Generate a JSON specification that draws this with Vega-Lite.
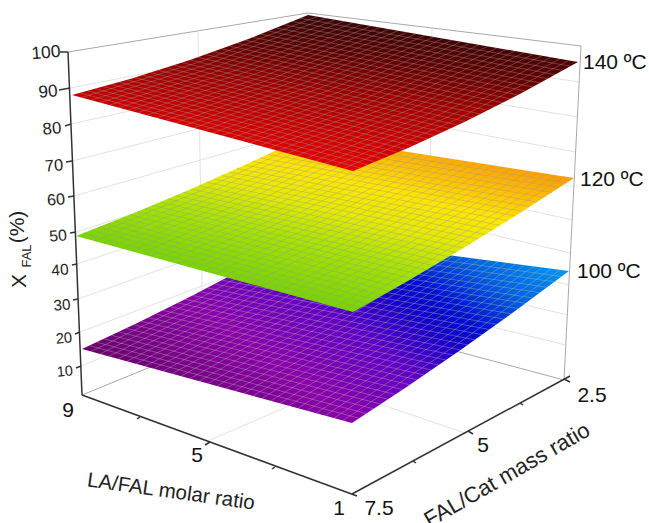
{"$schema":"https://vega.github.io/schema/vega-lite/v6.json","width":649,"height":523,"padding":0,"autosize":{"type":"none"},"background":"white","view":{"stroke":null},
"datasets":{
"wall":[{"a":70,"b":88,"c":306.7,"d":42},{"a":71,"b":124,"c":305.4,"d":72},{"a":72,"b":161,"c":304.1,"d":102},{"a":74,"b":196,"c":302.8,"d":131},{"a":76,"b":232,"c":301.5,"d":160},{"a":77,"b":264,"c":300.2,"d":190},{"a":78,"b":299,"c":298.9,"d":220},{"a":80,"b":332,"c":297.6,"d":250},{"a":81,"b":366,"c":296.3,"d":279},{"a":306.7,"b":42,"c":579.3,"d":82},{"a":305.4,"b":72,"c":577.6,"d":117},{"a":304.1,"b":102,"c":575.9,"d":152},{"a":302.8,"b":131,"c":574.2,"d":187},{"a":301.5,"b":160,"c":572.5,"d":220},{"a":300.2,"b":190,"c":570.8,"d":253},{"a":298.9,"b":220,"c":569.1,"d":285},{"a":297.6,"b":250,"c":567.4,"d":315},{"a":296.3,"b":279,"c":565.7,"d":345},{"a":198,"b":32,"c":203,"d":344},{"a":432,"b":28,"c":428,"d":345},{"a":210,"b":440,"c":430,"d":345},{"a":468,"b":434,"c":203,"d":344},{"a":308,"b":13,"c":295,"d":308}],
"edge":[{"a":68,"b":52,"c":308,"d":13},{"a":308,"b":13,"c":581,"d":46},{"a":581,"b":46,"c":564,"d":380},{"a":82,"b":395,"c":295,"d":308},{"a":564,"b":380,"c":295,"d":308}],
"axis":[{"a":68,"b":52,"c":82,"d":395},{"a":82,"b":395,"c":357,"d":496},{"a":352,"b":494,"c":570,"d":376},{"a":60,"b":52,"c":68,"d":52},{"a":59,"b":90,"c":70,"d":88},{"a":65,"b":126,"c":71,"d":124},{"a":66,"b":162,"c":72,"d":161},{"a":68,"b":197,"c":74,"d":196},{"a":70,"b":233,"c":76,"d":232},{"a":72,"b":265,"c":77,"d":264},{"a":73,"b":300,"c":78,"d":299},{"a":75,"b":334,"c":80,"d":332},{"a":76,"b":368,"c":81,"d":366},{"a":140,"b":417,"c":137,"d":419},{"a":210,"b":442,"c":205,"d":445},{"a":275,"b":467,"c":272,"d":469},{"a":413,"b":461,"c":416,"d":463},{"a":468,"b":431,"c":473,"d":434},{"a":520,"b":403,"c":523,"d":405},{"a":564,"b":379,"c":570,"d":382}],
"polyB":[{"a":82,"b":349,"k":1},{"a":137.25,"b":323,"k":2},{"a":192.5,"b":295.5,"k":3},{"a":247.75,"b":266.5,"k":4},{"a":303,"b":236,"k":5},{"a":569,"b":271,"k":6},{"a":514.75,"b":311.25,"k":7},{"a":460.5,"b":350,"k":8},{"a":406.25,"b":387.25,"k":9},{"a":352,"b":423,"k":10}],
"polyM":[{"a":76,"b":236,"k":1},{"a":133.5,"b":213.25,"k":2},{"a":191,"b":189,"k":3},{"a":248.5,"b":163.25,"k":4},{"a":306,"b":136,"k":5},{"a":574,"b":178,"k":6},{"a":518.75,"b":213.75,"k":7},{"a":463.5,"b":248,"k":8},{"a":408.25,"b":280.75,"k":9},{"a":353,"b":312,"k":10}],
"polyT":[{"a":72,"b":95,"k":1},{"a":131,"b":78.75,"k":2},{"a":190,"b":60,"k":3},{"a":249,"b":38.75,"k":4},{"a":308,"b":15,"k":5},{"a":578,"b":62,"k":6},{"a":521.75,"b":93,"k":7},{"a":465.5,"b":121.5,"k":8},{"a":409.25,"b":147.5,"k":9},{"a":353,"b":171,"k":10}],
"T1":[{"a":81.4,"b":97.5,"c":199.2,"d":62.1,"e":317,"f":16.6},{"a":90.7,"b":100.1,"c":208.4,"d":64.1,"e":326,"f":18.1},{"a":100.1,"b":102.6,"c":217.5,"d":66.2,"e":335,"f":19.7},{"a":109.5,"b":105.1,"c":226.7,"d":68.2,"e":344,"f":21.3},{"a":118.8,"b":107.7,"c":235.9,"d":70.3,"e":353,"f":22.8},{"a":128.2,"b":110.2,"c":245.1,"d":72.3,"e":362,"f":24.4},{"a":137.6,"b":112.7,"c":254.3,"d":74.4,"e":371,"f":26},{"a":146.9,"b":115.3,"c":263.5,"d":76.4,"e":380,"f":27.5},{"a":156.3,"b":117.8,"c":272.6,"d":78.5,"e":389,"f":29.1},{"a":165.7,"b":120.3,"c":281.8,"d":80.5,"e":398,"f":30.7},{"a":175,"b":122.9,"c":291,"d":82.6,"e":407,"f":32.2},{"a":184.4,"b":125.4,"c":300.2,"d":84.6,"e":416,"f":33.8},{"a":193.8,"b":127.9,"c":309.4,"d":86.7,"e":425,"f":35.4},{"a":203.1,"b":130.5,"c":318.6,"d":88.7,"e":434,"f":36.9},{"a":212.5,"b":133,"c":327.7,"d":90.8,"e":443,"f":38.5},{"a":221.9,"b":135.5,"c":336.9,"d":92.8,"e":452,"f":40.1},{"a":231.2,"b":138.1,"c":346.1,"d":94.9,"e":461,"f":41.6},{"a":240.6,"b":140.6,"c":355.3,"d":96.9,"e":470,"f":43.2},{"a":250,"b":143.1,"c":364.5,"d":99,"e":479,"f":44.8},{"a":259.3,"b":145.7,"c":373.7,"d":101,"e":488,"f":46.3},{"a":268.7,"b":148.2,"c":382.8,"d":103.1,"e":497,"f":47.9},{"a":278.1,"b":150.7,"c":392,"d":105.1,"e":506,"f":49.5},{"a":287.4,"b":153.3,"c":401.2,"d":107.2,"e":515,"f":51},{"a":296.8,"b":155.8,"c":410.4,"d":109.2,"e":524,"f":52.6},{"a":306.2,"b":158.3,"c":419.6,"d":111.3,"e":533,"f":54.2},{"a":315.5,"b":160.9,"c":428.8,"d":113.3,"e":542,"f":55.7},{"a":324.9,"b":163.4,"c":437.9,"d":115.4,"e":551,"f":57.3},{"a":334.3,"b":165.9,"c":447.1,"d":117.4,"e":560,"f":58.9},{"a":343.6,"b":168.5,"c":456.3,"d":119.5,"e":569,"f":60.4}],
"T2":[{"a":79.9,"b":92.9,"c":360.5,"d":168},{"a":87.7,"b":90.9,"c":368,"d":164.9},{"a":95.6,"b":88.8,"c":375.5,"d":161.9},{"a":103.5,"b":86.6,"c":383,"d":158.8},{"a":111.3,"b":84.5,"c":390.5,"d":155.6},{"a":119.2,"b":82.2,"c":398,"d":152.4},{"a":127.1,"b":79.9,"c":405.5,"d":149.2},{"a":134.9,"b":77.6,"c":413,"d":145.8},{"a":142.8,"b":75.2,"c":420.5,"d":142.5},{"a":150.7,"b":72.7,"c":428,"d":139.1},{"a":158.5,"b":70.3,"c":435.5,"d":135.6},{"a":166.4,"b":67.8,"c":443,"d":132.2},{"a":174.3,"b":65.2,"c":450.5,"d":128.7},{"a":182.1,"b":62.7,"c":458,"d":125.1},{"a":190,"b":60,"c":465.5,"d":121.5},{"a":197.9,"b":57.3,"c":473,"d":117.9},{"a":205.7,"b":54.6,"c":480.5,"d":114.1},{"a":213.6,"b":51.8,"c":488,"d":110.4},{"a":221.5,"b":48.9,"c":495.5,"d":106.6},{"a":229.3,"b":46.1,"c":503,"d":102.7},{"a":237.2,"b":43.2,"c":510.5,"d":98.9},{"a":245.1,"b":40.2,"c":518,"d":95},{"a":252.9,"b":37.3,"c":525.5,"d":91},{"a":260.8,"b":34.2,"c":533,"d":87},{"a":268.7,"b":31.1,"c":540.5,"d":83},{"a":276.5,"b":28,"c":548,"d":78.8},{"a":284.4,"b":24.8,"c":555.5,"d":74.7},{"a":292.3,"b":21.5,"c":563,"d":70.5},{"a":300.1,"b":18.3,"c":570.5,"d":66.2}],
"M1":[{"a":85.2,"b":238.5,"c":200.1,"d":191,"e":314.9,"f":137.4},{"a":94.5,"b":241.1,"c":209.2,"d":192.9,"e":323.9,"f":138.8},{"a":103.7,"b":243.6,"c":218.2,"d":194.9,"e":332.8,"f":140.2},{"a":112.9,"b":246.1,"c":227.3,"d":196.9,"e":341.7,"f":141.6},{"a":122.2,"b":248.7,"c":236.4,"d":198.8,"e":350.7,"f":143},{"a":131.4,"b":251.2,"c":245.5,"d":200.8,"e":359.6,"f":144.4},{"a":140.6,"b":253.7,"c":254.6,"d":202.8,"e":368.5,"f":145.8},{"a":149.9,"b":256.3,"c":263.7,"d":204.7,"e":377.5,"f":147.2},{"a":159.1,"b":258.8,"c":272.7,"d":206.7,"e":386.4,"f":148.6},{"a":168.3,"b":261.3,"c":281.8,"d":208.7,"e":395.3,"f":150},{"a":177.6,"b":263.9,"c":290.9,"d":210.6,"e":404.3,"f":151.4},{"a":186.8,"b":266.4,"c":300,"d":212.6,"e":413.2,"f":152.8},{"a":196,"b":268.9,"c":309.1,"d":214.6,"e":422.1,"f":154.2},{"a":205.3,"b":271.5,"c":318.2,"d":216.5,"e":431.1,"f":155.6},{"a":214.5,"b":274,"c":327.2,"d":218.5,"e":440,"f":157},{"a":223.7,"b":276.5,"c":336.3,"d":220.5,"e":448.9,"f":158.4},{"a":233,"b":279.1,"c":345.4,"d":222.4,"e":457.9,"f":159.8},{"a":242.2,"b":281.6,"c":354.5,"d":224.4,"e":466.8,"f":161.2},{"a":251.4,"b":284.1,"c":363.6,"d":226.4,"e":475.7,"f":162.6},{"a":260.7,"b":286.7,"c":372.7,"d":228.3,"e":484.7,"f":164},{"a":269.9,"b":289.2,"c":381.7,"d":230.3,"e":493.6,"f":165.4},{"a":279.1,"b":291.7,"c":390.8,"d":232.3,"e":502.5,"f":166.8},{"a":288.4,"b":294.3,"c":399.9,"d":234.2,"e":511.5,"f":168.2},{"a":297.6,"b":296.8,"c":409,"d":236.2,"e":520.4,"f":169.6},{"a":306.8,"b":299.3,"c":418.1,"d":238.2,"e":529.3,"f":171},{"a":316.1,"b":301.9,"c":427.2,"d":240.1,"e":538.3,"f":172.4},{"a":325.3,"b":304.4,"c":436.2,"d":242.1,"e":547.2,"f":173.8},{"a":334.5,"b":306.9,"c":445.3,"d":244.1,"e":556.1,"f":175.2},{"a":343.8,"b":309.5,"c":454.4,"d":246,"e":565.1,"f":176.6}],
"M2":[{"a":83.7,"b":233.1,"c":360.4,"d":307.9},{"a":91.3,"b":230,"c":367.7,"d":303.8},{"a":99,"b":227.1,"c":375.1,"d":299.7},{"a":106.7,"b":224.1,"c":382.5,"d":295.5},{"a":114.3,"b":221,"c":389.8,"d":291.4},{"a":122,"b":217.9,"c":397.2,"d":287.1},{"a":129.7,"b":214.8,"c":404.6,"d":282.8},{"a":137.3,"b":211.6,"c":411.9,"d":278.6},{"a":145,"b":208.5,"c":419.3,"d":274.3},{"a":152.7,"b":205.4,"c":426.7,"d":270},{"a":160.3,"b":202.1,"c":434,"d":265.7},{"a":168,"b":198.9,"c":441.4,"d":261.3},{"a":175.7,"b":195.6,"c":448.8,"d":256.8},{"a":183.3,"b":192.3,"c":456.1,"d":252.5},{"a":191,"b":189,"c":463.5,"d":248},{"a":198.7,"b":185.7,"c":470.9,"d":243.5},{"a":206.3,"b":182.2,"c":478.2,"d":239},{"a":214,"b":178.9,"c":485.6,"d":234.5},{"a":221.7,"b":175.5,"c":493,"d":229.9},{"a":229.3,"b":172,"c":500.3,"d":225.4},{"a":237,"b":168.5,"c":507.7,"d":220.7},{"a":244.7,"b":165,"c":515.1,"d":216},{"a":252.3,"b":161.4,"c":522.4,"d":211.4},{"a":260,"b":157.9,"c":529.8,"d":206.7},{"a":267.7,"b":154.4,"c":537.2,"d":202},{"a":275.3,"b":150.7,"c":544.5,"d":197.3},{"a":283,"b":147.1,"c":551.9,"d":192.5},{"a":290.7,"b":143.4,"c":559.3,"d":187.6},{"a":298.3,"b":139.7,"c":566.6,"d":182.9}],
"B1":[{"a":91,"b":351.5,"c":201.4,"d":297.3,"e":311.9,"f":237.2},{"a":100,"b":353.9,"c":210.4,"d":299.1,"e":320.7,"f":238.3},{"a":109,"b":356.4,"c":219.3,"d":301,"e":329.6,"f":239.5},{"a":118,"b":358.9,"c":228.2,"d":302.8,"e":338.5,"f":240.7},{"a":127,"b":361.3,"c":237.2,"d":304.6,"e":347.3,"f":241.8},{"a":136,"b":363.8,"c":246.1,"d":306.4,"e":356.2,"f":243},{"a":145,"b":366.3,"c":255,"d":308.2,"e":365.1,"f":244.2},{"a":154,"b":368.7,"c":264,"d":310,"e":373.9,"f":245.3},{"a":163,"b":371.2,"c":272.9,"d":311.9,"e":382.8,"f":246.5},{"a":172,"b":373.7,"c":281.8,"d":313.7,"e":391.7,"f":247.7},{"a":181,"b":376.1,"c":290.8,"d":315.5,"e":400.5,"f":248.8},{"a":190,"b":378.6,"c":299.7,"d":317.3,"e":409.4,"f":250},{"a":199,"b":381.1,"c":308.6,"d":319.1,"e":418.3,"f":251.2},{"a":208,"b":383.5,"c":317.6,"d":320.9,"e":427.1,"f":252.3},{"a":217,"b":386,"c":326.5,"d":322.8,"e":436,"f":253.5},{"a":226,"b":388.5,"c":335.4,"d":324.6,"e":444.9,"f":254.7},{"a":235,"b":390.9,"c":344.4,"d":326.4,"e":453.7,"f":255.8},{"a":244,"b":393.4,"c":353.3,"d":328.2,"e":462.6,"f":257},{"a":253,"b":395.9,"c":362.2,"d":330,"e":471.5,"f":258.2},{"a":262,"b":398.3,"c":371.2,"d":331.8,"e":480.3,"f":259.3},{"a":271,"b":400.8,"c":380.1,"d":333.7,"e":489.2,"f":260.5},{"a":280,"b":403.3,"c":389,"d":335.5,"e":498.1,"f":261.7},{"a":289,"b":405.7,"c":398,"d":337.3,"e":506.9,"f":262.8},{"a":298,"b":408.2,"c":406.9,"d":339.1,"e":515.8,"f":264},{"a":307,"b":410.7,"c":415.8,"d":340.9,"e":524.7,"f":265.2},{"a":316,"b":413.1,"c":424.8,"d":342.7,"e":533.5,"f":266.3},{"a":325,"b":415.6,"c":433.7,"d":344.6,"e":542.4,"f":267.5},{"a":334,"b":418.1,"c":442.6,"d":346.4,"e":551.3,"f":268.7},{"a":343,"b":420.5,"c":451.6,"d":348.2,"e":560.1,"f":269.8}],
"B2":[{"a":89.4,"b":345.6,"c":359.2,"d":418.3},{"a":96.7,"b":342.2,"c":366.5,"d":413.6},{"a":104.1,"b":338.8,"c":373.7,"d":408.9},{"a":111.5,"b":335.3,"c":380.9,"d":404.1},{"a":118.8,"b":331.9,"c":388.2,"d":399.4},{"a":126.2,"b":328.3,"c":395.4,"d":394.5},{"a":133.6,"b":324.7,"c":402.6,"d":389.6},{"a":140.9,"b":321.2,"c":409.9,"d":384.8},{"a":148.3,"b":317.6,"c":417.1,"d":379.9},{"a":155.7,"b":314,"c":424.3,"d":375},{"a":163,"b":310.4,"c":431.6,"d":370.1},{"a":170.4,"b":306.7,"c":438.8,"d":365.1},{"a":177.8,"b":302.9,"c":446,"d":360},{"a":185.1,"b":299.3,"c":453.3,"d":355.1},{"a":192.5,"b":295.5,"c":460.5,"d":350},{"a":199.9,"b":291.7,"c":467.7,"d":344.9},{"a":207.2,"b":287.9,"c":475,"d":339.8},{"a":214.6,"b":284.1,"c":482.2,"d":334.7},{"a":222,"b":280.2,"c":489.4,"d":329.5},{"a":229.3,"b":276.4,"c":496.7,"d":324.4},{"a":236.7,"b":272.4,"c":503.9,"d":319.1},{"a":244.1,"b":268.4,"c":511.1,"d":313.8},{"a":251.4,"b":264.5,"c":518.4,"d":308.6},{"a":258.8,"b":260.5,"c":525.6,"d":303.3},{"a":266.2,"b":256.5,"c":532.8,"d":298},{"a":273.5,"b":252.5,"c":540.1,"d":292.7},{"a":280.9,"b":248.4,"c":547.3,"d":287.3},{"a":288.3,"b":244.2,"c":554.5,"d":281.8},{"a":295.6,"b":240.2,"c":561.8,"d":276.5}],
"ylabels":[{"a":46,"b":53,"t":"100","v":100},{"a":48,"b":92,"t":"90","v":90},{"a":52,"b":129,"t":"80","v":80},{"a":54,"b":166,"t":"70","v":70},{"a":56,"b":200,"t":"60","v":60},{"a":58,"b":236,"t":"50","v":50},{"a":60,"b":270,"t":"40","v":40},{"a":62,"b":305,"t":"30","v":30},{"a":64,"b":339,"t":"20","v":20},{"a":65,"b":372,"t":"10","v":10}],
"ticks":[{"a":68,"b":411,"t":"9"},{"a":197,"b":456,"t":"5"},{"a":339,"b":509,"t":"1"},{"a":379,"b":509,"t":"7.5"},{"a":483,"b":446,"t":"5"},{"a":592,"b":396,"t":"2.5"}],
"temps":[{"a":583,"b":63,"t":"140 ºC"},{"a":580,"b":180,"t":"120 ºC"},{"a":577,"b":272,"t":"100 ºC"}],
"title1":[{"a":171,"b":492,"t":"LA/FAL molar ratio"}],
"title2":[{"a":507,"b":475,"t":"FAL/Cat mass ratio"}],
"ytitleBig":[{"a":20,"b":281,"t":"X"},{"a":18,"b":227,"t":"(%)"}],
"ytitleSub":[{"a":27,"b":256,"t":"FAL"}]
},
"encoding":{"x":{"field":"a","type":"quantitative","scale":{"domain":[0,649]},"axis":null},"y":{"field":"b","type":"quantitative","scale":{"domain":[523,0]},"axis":null}},
"layer":[
{"data":{"name":"wall"},"mark":{"type":"rule","stroke":"#e2e2e2","strokeWidth":1},"encoding":{"x2":{"field":"c"},"y2":{"field":"d"}}},
{"data":{"name":"edge"},"mark":{"type":"rule","stroke":"#a8a8a8","strokeWidth":1},"encoding":{"x2":{"field":"c"},"y2":{"field":"d"}}},
{"data":{"name":"axis"},"mark":{"type":"rule","stroke":"#333333","strokeWidth":1.5},"encoding":{"x2":{"field":"c"},"y2":{"field":"d"}}},
{"data":{"name":"polyB"},"mark":{"type":"line","stroke":"transparent","fill":{"gradient":"linear","x1":0,"y1":0.604,"x2":0.96,"y2":0.108,"stops":[{"offset":0,"color":"#6a006a"},{"offset":0.3,"color":"#8a00aa"},{"offset":0.5,"color":"#6000c4"},{"offset":0.64,"color":"#1400c8"},{"offset":0.72,"color":"#0010d0"},{"offset":0.85,"color":"#0060e0"},{"offset":1,"color":"#0098f0"}]}},"encoding":{"order":{"field":"k"}}},
{"data":{"name":"B1"},"mark":{"type":"rule","stroke":"#bbbbbb","strokeWidth":0.7,"opacity":0.55},"encoding":{"x2":{"field":"c"},"y2":{"field":"d"}}},
{"data":{"name":"B1"},"mark":{"type":"rule","stroke":"#bbbbbb","strokeWidth":0.7,"opacity":0.55},"encoding":{"x":{"field":"c","type":"quantitative","scale":{"domain":[0,649]},"axis":null},"y":{"field":"d","type":"quantitative","scale":{"domain":[523,0]},"axis":null},"x2":{"field":"e"},"y2":{"field":"f"}}},
{"data":{"name":"B2"},"mark":{"type":"rule","stroke":"#bbbbbb","strokeWidth":0.7,"opacity":0.55},"encoding":{"x2":{"field":"c"},"y2":{"field":"d"}}},
{"data":{"name":"polyM"},"mark":{"type":"line","stroke":"transparent","fill":{"gradient":"linear","x1":0.28,"y1":0.785,"x2":0.8,"y2":0.093,"stops":[{"offset":0,"color":"#78d400"},{"offset":0.3,"color":"#a8e400"},{"offset":0.5,"color":"#e6ea00"},{"offset":0.68,"color":"#ffe600"},{"offset":0.85,"color":"#ffbc00"},{"offset":1,"color":"#fc9c00"}]}},"encoding":{"order":{"field":"k"}}},
{"data":{"name":"M1"},"mark":{"type":"rule","stroke":"#999999","strokeWidth":0.7,"opacity":0.55},"encoding":{"x2":{"field":"c"},"y2":{"field":"d"}}},
{"data":{"name":"M1"},"mark":{"type":"rule","stroke":"#999999","strokeWidth":0.7,"opacity":0.55},"encoding":{"x":{"field":"c","type":"quantitative","scale":{"domain":[0,649]},"axis":null},"y":{"field":"d","type":"quantitative","scale":{"domain":[523,0]},"axis":null},"x2":{"field":"e"},"y2":{"field":"f"}}},
{"data":{"name":"M2"},"mark":{"type":"rule","stroke":"#999999","strokeWidth":0.7,"opacity":0.55},"encoding":{"x2":{"field":"c"},"y2":{"field":"d"}}},
{"data":{"name":"polyT"},"mark":{"type":"line","stroke":"transparent","fill":{"gradient":"linear","x1":0.556,"y1":1,"x2":0.88,"y2":0.163,"stops":[{"offset":0,"color":"#e60000"},{"offset":0.25,"color":"#c80000"},{"offset":0.5,"color":"#a00000"},{"offset":0.75,"color":"#640000"},{"offset":1,"color":"#3a0505"}]}},"encoding":{"order":{"field":"k"}}},
{"data":{"name":"T1"},"mark":{"type":"rule","stroke":"#aaaaaa","strokeWidth":0.7,"opacity":0.5},"encoding":{"x2":{"field":"c"},"y2":{"field":"d"}}},
{"data":{"name":"T1"},"mark":{"type":"rule","stroke":"#aaaaaa","strokeWidth":0.7,"opacity":0.5},"encoding":{"x":{"field":"c","type":"quantitative","scale":{"domain":[0,649]},"axis":null},"y":{"field":"d","type":"quantitative","scale":{"domain":[523,0]},"axis":null},"x2":{"field":"e"},"y2":{"field":"f"}}},
{"data":{"name":"T2"},"mark":{"type":"rule","stroke":"#aaaaaa","strokeWidth":0.7,"opacity":0.5},"encoding":{"x2":{"field":"c"},"y2":{"field":"d"}}},
{"data":{"name":"ylabels"},"mark":{"type":"text","font":"Liberation Sans","angle":-5,"align":"center","baseline":"middle","fill":"#222222"},"encoding":{"text":{"field":"t"},"size":{"field":"v","type":"quantitative","scale":{"domain":[10,100],"range":[14.5,17.5]},"legend":null}}},
{"data":{"name":"ticks"},"mark":{"type":"text","font":"Liberation Sans","fontSize":21,"align":"center","baseline":"middle","fill":"#111111"},"encoding":{"text":{"field":"t"}}},
{"data":{"name":"temps"},"mark":{"type":"text","font":"Liberation Sans","fontSize":21,"align":"left","baseline":"middle","fill":"#111111"},"encoding":{"text":{"field":"t"}}},
{"data":{"name":"title1"},"mark":{"type":"text","font":"Liberation Sans","fontSize":20.5,"angle":8,"align":"center","baseline":"middle","fill":"#222222"},"encoding":{"text":{"field":"t"}}},
{"data":{"name":"title2"},"mark":{"type":"text","font":"Liberation Sans","fontSize":22,"angle":-30,"align":"center","baseline":"middle","fill":"#222222"},"encoding":{"text":{"field":"t"}}},
{"data":{"name":"ytitleBig"},"mark":{"type":"text","font":"Liberation Sans","fontSize":21,"angle":-90,"align":"center","baseline":"middle","fill":"#222222"},"encoding":{"text":{"field":"t"}}},
{"data":{"name":"ytitleSub"},"mark":{"type":"text","font":"Liberation Sans","fontSize":13,"angle":-90,"align":"center","baseline":"middle","fill":"#222222"},"encoding":{"text":{"field":"t"}}}
]}
